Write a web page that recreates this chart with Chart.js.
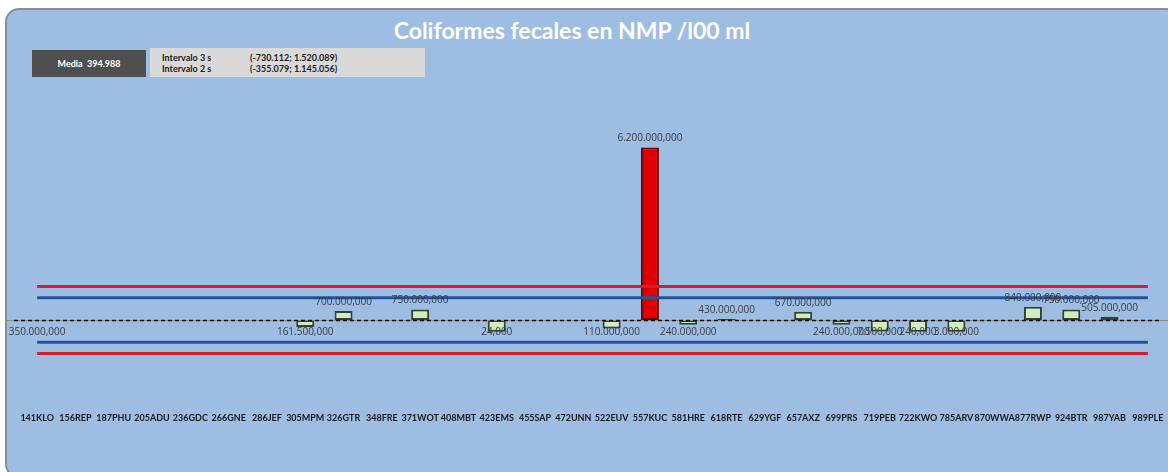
<!DOCTYPE html>
<html>
<head>
<meta charset="utf-8">
<script src="https://cdn.jsdelivr.net/npm/chart.js@4"></script>
<style>
  html, body { margin: 0; padding: 0; background: #ffffff; overflow: hidden; width: 1168px; height: 472px; }
  #frame {
    position: absolute; left: 5px; top: 8px; width: 1175px; height: 470px;
    background: #9ebde3; border: 2px solid #8e8e8e; border-radius: 14px;
    box-sizing: border-box;
  }
  #wrap { position: absolute; left: 0; top: 0; width: 1168px; height: 472px; }
  #titulo { position: absolute; left: 272px; width: 600px; top: 16px; text-align: center;
    font-family: Lato, sans-serif; font-weight: bold; font-size: 23px; color: #fff; }
  .box { position: absolute; font-family: Lato, sans-serif; font-weight: bold; font-size: 9px; }
  #media { left: 32px; top: 50px; width: 114px; height: 27px; background: #4f4f4f; color: #fff;
    line-height: 27px; text-align: center; }
  #interv { left: 150px; top: 48px; width: 275px; height: 29px; background: #d9d9d9; color: #222; }
  #interv div { position: absolute; white-space: nowrap; }
</style>
</head>
<body>
<div id="frame"></div>
<div id="titulo">Coliformes fecales en NMP /l00 ml</div>
<div id="wrap"><canvas id="chart"></canvas></div>
<div class="box" id="media">Media&nbsp; 394.988</div>
<div class="box" id="interv">
  <div style="left:12px; top:4px">Intervalo 3 s</div>
  <div style="left:100px; top:4px">(-730.112; 1.520.089)</div>
  <div style="left:12px; top:15px">Intervalo 2 s</div>
  <div style="left:100px; top:15px">(-355.079; 1.145.056)</div>
</div>
<script>
const stations = ['141KLO', '156REP', '187PHU', '205ADU', '236GDC', '266GNE', '286JEF', '305MPM',
  '326GTR', '348FRE', '371WOT', '408MBT', '423EMS', '455SAP', '472UNN', '522EUV', '557KUC',
  '581HRE', '618RTE', '629YGF', '657AXZ', '699PRS', '719PEB', '722KWO', '785ARV', '870WWA',
  '877RWP', '924BTR', '987YAB', '989PLE'];
// NMP / 100 ml, null where no sample
const coliformes = [350000, null, null, null, null, null, null, 161500,
  700000, null, 750000, null, 24, null, null, 110000, 6200000,
  240000, 430000, null, 670000, 240000, 7500, 240, 3000, null,
  840000, 750000, 505000, null];

const media = 394988;
const lim3s = [-730112, 1520089];
const lim2s = [-355079, 1145056];

function fmt(v) {
  return Math.round(v).toString().replace(/\B(?=(\d{3})+(?!\d))/g, '.') + ',000';
}

const barData = coliformes.map(v => v === null ? null : [media, v]);
const flat = v => stations.map(() => v);

const lineaMedia = {
  id: 'lineaMedia',
  afterDatasetsDraw(chart) {
    const ctx = chart.ctx;
    const y = Math.round(chart.scales.y.getPixelForValue(media)) + 0.5;
    ctx.save();
    ctx.strokeStyle = '#8a8a8a';
    ctx.lineWidth = 1;
    ctx.beginPath(); ctx.moveTo(7, y); ctx.lineTo(chart.width, y); ctx.stroke();
    ctx.strokeStyle = '#111';
    ctx.lineWidth = 1.5;
    ctx.setLineDash([4, 3]);
    ctx.beginPath(); ctx.moveTo(14, y); ctx.lineTo(chart.width - 8, y); ctx.stroke();
    ctx.restore();
  }
};

const etiquetas = {
  id: 'etiquetas',
  afterDatasetsDraw(chart) {
    const ctx = chart.ctx;
    const meta = chart.getDatasetMeta(0);
    ctx.save();
    ctx.font = '10px "Open Sans", sans-serif';
    ctx.fillStyle = '#3a3a3a';
    ctx.textAlign = 'center';
    meta.data.forEach((el, i) => {
      const v = coliformes[i];
      if (v === null) return;
      const txt = fmt(v);
      const w = ctx.measureText(txt).width;
      const x = Math.max(el.x, 8 + w / 2);
      if (v >= media) {
        ctx.textBaseline = 'bottom';
        ctx.fillText(txt, x, el.y - 4);
      } else {
        ctx.textBaseline = 'top';
        ctx.fillText(txt, x, el.y + 7);
      }
    });
    ctx.restore();
  }
};

new Chart(document.getElementById('chart'), {
  data: {
    labels: stations,
    datasets: [
      {
        type: 'bar',
        data: barData,
        backgroundColor: coliformes.map(v => v !== null && v > 5000000 ? '#e00000' : '#d3ecbf'),
        borderColor: coliformes.map(v => v !== null && v > 5000000 ? '#6e0000' : '#34432f'),
        borderWidth: 2,
        borderSkipped: false,
        barPercentage: 0.47,
        categoryPercentage: 1,
        order: 2
      },
      { type: 'line', data: flat(lim3s[1]), borderColor: '#d0202c', borderWidth: 3, pointRadius: 0, order: 0 },
      { type: 'line', data: flat(lim3s[0]), borderColor: '#d0202c', borderWidth: 3, pointRadius: 0, order: 0 },
      { type: 'line', data: flat(lim2s[1]), borderColor: '#24529a', borderWidth: 3, pointRadius: 0, order: 0 },
      { type: 'line', data: flat(lim2s[0]), borderColor: '#24529a', borderWidth: 3, pointRadius: 0, order: 0 }
    ]
  },
  options: {
    responsive: true,
    maintainAspectRatio: false,
    animation: false,
    layout: { padding: { left: 18, right: 1, top: 94, bottom: 49 } },
    plugins: {
      legend: { display: false },
      tooltip: { enabled: false },
      title: { display: false }
    },
    scales: {
      x: {
        offset: true,
        grid: { display: false, drawTicks: true, tickLength: 21 },
        border: { display: false },
        ticks: {
          color: '#1a1a1a',
          font: { family: 'Lato', size: 9, weight: 'bold' },
          padding: 0,
          maxRotation: 0,
          autoSkip: false
        }
      },
      y: {
        display: false,
        min: -2000000,
        max: 8000000
      }
    }
  },
  plugins: [lineaMedia, etiquetas]
});
</script>
</body>
</html>
